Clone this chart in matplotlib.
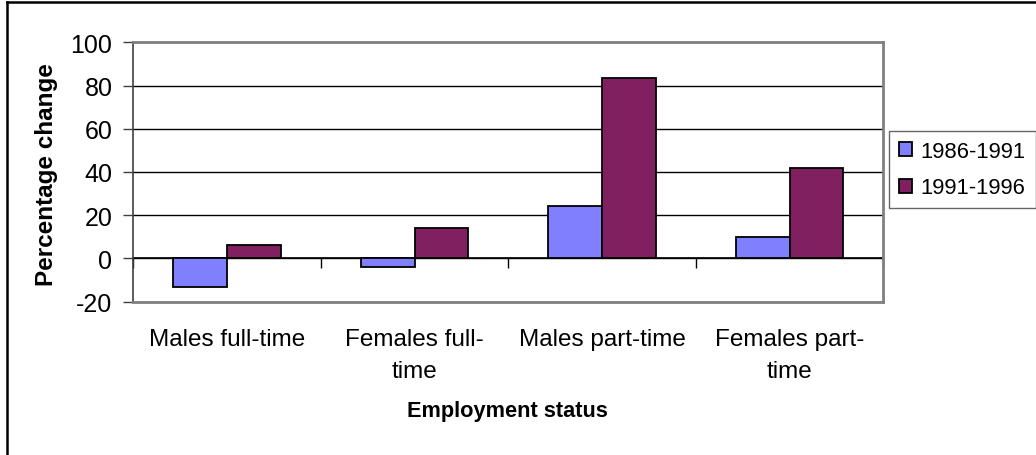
import matplotlib
matplotlib.use("Agg")
import matplotlib.pyplot as plt
from matplotlib.lines import Line2D
import numpy as np

categories = ["Males full-time", "Females full-\ntime", "Males part-time", "Females part-\ntime"]
series_names = ["1986-1991", "1991-1996"]
change_86_91 = [-13, -4, 24.5, 9.7]
change_91_96 = [6.2, 14, 83.5, 42]
y_ticks = [-20, 0, 20, 40, 60, 80, 100]

colors = ["#8080FF", "#802060"]
font = "Liberation Sans"
plt.rcParams["font.family"] = [font, "DejaVu Sans"]

W, H = 1036, 456
fig = plt.figure(figsize=(W / 100, H / 100), dpi=100)
fig.patch.set_facecolor("white")

# plot area in pixel terms
left, right, top, bottom = 133.3, 883.3, 43.3, 302.7
ax = fig.add_axes([left / W, 1 - bottom / H, (right - left) / W, (bottom - top) / H])

x = np.arange(len(categories))
width = 1 / 3.5
ax.bar(x - width / 2, change_86_91, width, color=colors[0], edgecolor="black",
       linewidth=1.3, label=series_names[0], zorder=3)
ax.bar(x + width / 2, change_91_96, width, color=colors[1], edgecolor="black",
       linewidth=1.3, label=series_names[1], zorder=3)

ax.set_xlim(-0.5, len(categories) - 0.5)
ax.set_ylim(y_ticks[0], y_ticks[-1])
ax.set_yticks(y_ticks)
ax.set_yticklabels([str(v) for v in y_ticks], fontsize=18)
ax.yaxis.grid(True, color="black", linewidth=1.0, zorder=0)
ax.set_axisbelow(True)
ax.tick_params(axis="y", direction="out", length=7, width=1, color="#404040", pad=8)

# category labels along the bottom
ax.set_xticks(x)
ax.set_xticklabels(categories, fontsize=17.5, linespacing=1.6)
ax.tick_params(axis="x", length=0, pad=19)

for side in ["top", "right", "bottom"]:
    ax.spines[side].set_color("#808080")
    ax.spines[side].set_linewidth(2)
ax.spines["left"].set_color("#404040")
ax.spines["left"].set_linewidth(1.2)

# category axis line crossing at zero with tick marks between groups
zero_pos = (0 - y_ticks[0]) / (y_ticks[-1] - y_ticks[0])
sec = ax.secondary_xaxis(zero_pos)
sec.set_xticks(np.arange(-0.5, len(categories)))
sec.set_xticklabels([])
sec.tick_params(direction="out", length=7, width=1, color="black")
sec.spines["bottom"].set_color("black")
sec.spines["bottom"].set_linewidth(1.2)

ax.set_xlabel("Employment status", fontsize=15.7, fontweight="bold")
ax.xaxis.label.set_va("center")
ax.xaxis.set_label_coords(((507.5 - left) / (right - left)), -(411.7 - bottom) / (bottom - top))
ax.set_ylabel("Percentage change", fontsize=17.5, fontweight="bold")
ax.yaxis.label.set_va("center")
ax.yaxis.set_label_coords(-(left - 47) / (right - left), 1 - (175 - top) / (bottom - top))

leg = fig.legend(loc="upper left", bbox_to_anchor=(889 / W, 1 - 131.7 / H),
                 fontsize=15.8, frameon=True, fancybox=False, edgecolor="#404040",
                 handlelength=0.6, handleheight=0.6, handletextpad=0.4,
                 labelspacing=0.72, borderpad=0.45, borderaxespad=0)
leg.get_frame().set_linewidth(1.0)

# chart outline
fig.add_artist(Line2D([7 / W, 7 / W], [0, 1 - 3 / H], color="black", linewidth=1.8))
fig.add_artist(Line2D([7 / W, 1], [1 - 3 / H, 1 - 3 / H], color="black", linewidth=1.8))

fig.savefig("out.png", dpi=100, facecolor="white")
